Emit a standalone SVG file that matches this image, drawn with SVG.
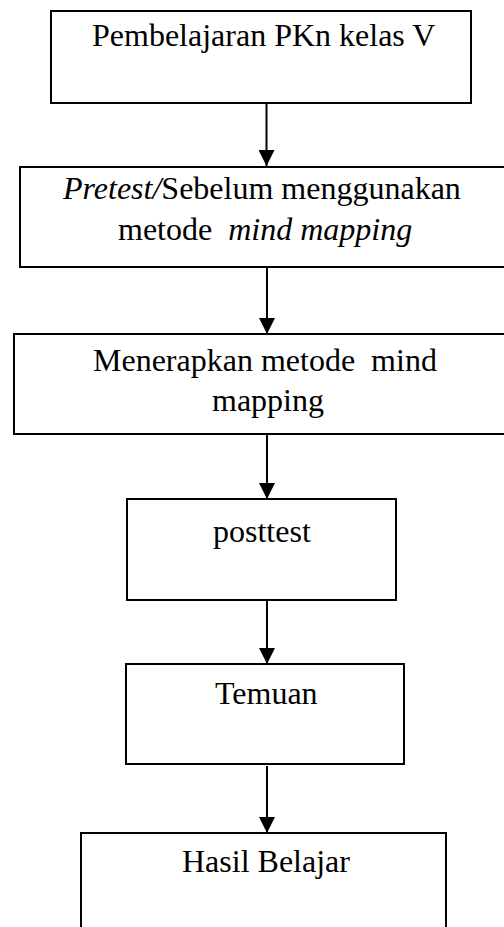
<svg xmlns="http://www.w3.org/2000/svg" width="504" height="927" viewBox="0 0 504 927">
<defs>
<style>
.box{fill:#fff;stroke:#000;stroke-width:2}
.t{font-family:"Liberation Serif","Times New Roman",serif;font-size:32px;fill:#000}
.i{font-style:italic}
.c{stroke:#000;stroke-width:2;fill:none}
</style>
<marker id="ah" markerUnits="userSpaceOnUse" markerWidth="18" markerHeight="16" viewBox="0 0 18 16" refX="16" refY="8" orient="auto">
<path d="M0,0 L16,8 L0,16 Z" fill="#000"/>
</marker>
</defs>
<rect width="504" height="927" fill="#fff"/>
<g id="connectors">
<line class="c" x1="266.5" y1="103" x2="266.5" y2="166" marker-end="url(#ah)"/>
<line class="c" x1="267" y1="268" x2="267" y2="334" marker-end="url(#ah)"/>
<line class="c" x1="267" y1="434" x2="267" y2="499" marker-end="url(#ah)"/>
<line class="c" x1="267" y1="601" x2="267" y2="664" marker-end="url(#ah)"/>
<line class="c" x1="267" y1="766" x2="267" y2="833" marker-end="url(#ah)"/>
</g>
<g id="n1">
<rect class="box" x="51" y="11" width="420" height="92"/>
<text class="t" x="92" y="46">Pembelajaran PKn kelas V</text>
</g>
<g id="n2">
<rect class="box" x="20" y="167" width="500" height="100"/>
<text class="t" x="63" y="199"><tspan class="i">Pretest/</tspan>Sebelum menggunakan</text>
<text class="t" x="118" y="240" xml:space="preserve">metode  <tspan class="i">mind mapping</tspan></text>
</g>
<g id="n3">
<rect class="box" x="14" y="334" width="506" height="100"/>
<text class="t" x="93" y="371" xml:space="preserve">Menerapkan metode  mind</text>
<text class="t" x="212" y="411">mapping</text>
</g>
<g id="n4">
<rect class="box" x="127" y="499" width="269" height="101"/>
<text class="t" x="213" y="542">posttest</text>
</g>
<g id="n5">
<rect class="box" x="126" y="664" width="278" height="100"/>
<text class="t" x="215" y="704">Temuan</text>
</g>
<g id="n6">
<rect class="box" x="81" y="833" width="365" height="120"/>
<text class="t" x="182" y="872">Hasil Belajar</text>
</g>
</svg>
